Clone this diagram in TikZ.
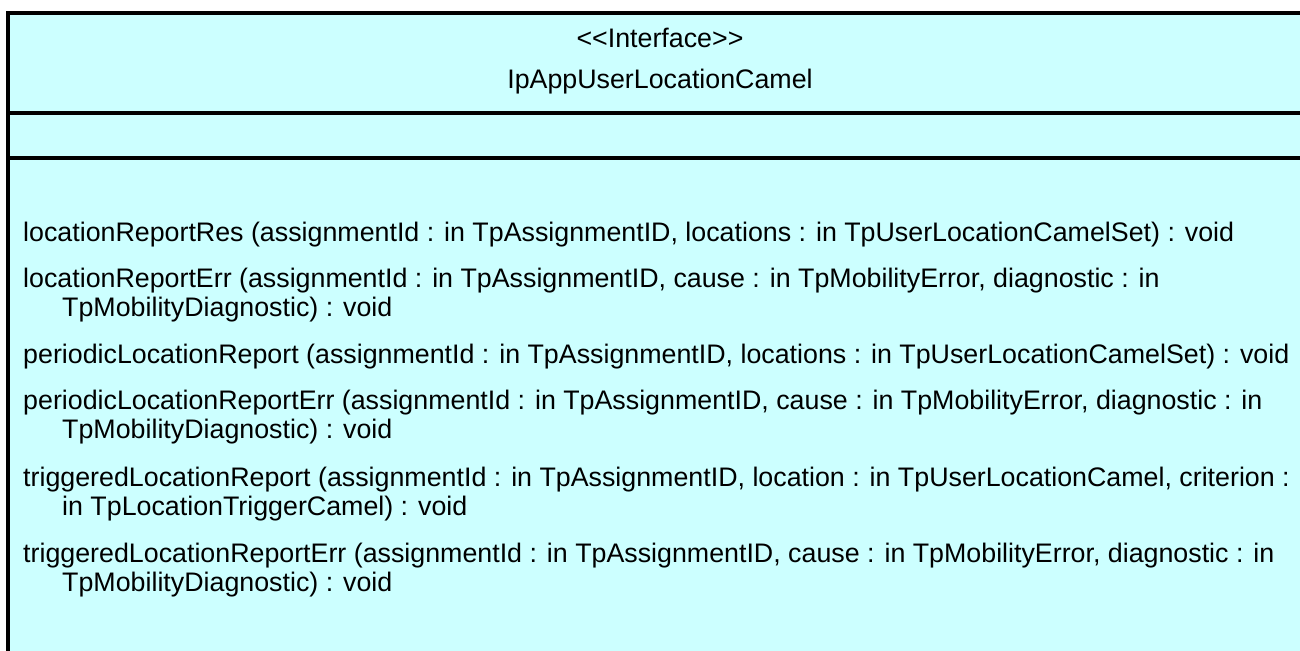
\documentclass[tikz,border=0pt]{standalone}
\usepackage{fontspec}
\usepackage{xcolor}
\newfontfamily\umlfont{Liberation Sans}
\definecolor{ifacefill}{RGB}{204,255,255}

\begin{document}
\begin{tikzpicture}[x=1pt, y=-1pt]
\tikzset{umltext/.style = {font=\umlfont\fontsize{26.8}{29}\selectfont, inner sep=0pt}}
\tikzset{optext/.style = {umltext, anchor=base west, align=left}}
\tikzset{frame/.style = {line width=4pt}}

\useasboundingbox (0,0) rectangle (1300,650);
\clip (0,0) rectangle (1300,650);

%class box
\draw[frame, fill=ifacefill] (8,13) rectangle (1312,700);
\draw[frame] (8,113) -- (1312,113);
\draw[frame] (8,158) -- (1312,158);

%name compartment
\node[umltext, anchor=base] (stereo) at (660,48) {<<Interface>>};
\node[umltext, anchor=base] (cname) at (660,89) {IpAppUserLocationCamel};

%operations (base = last line)
\node[optext] (op1) at (23,241) {locationReportRes (assignmentId : in TpAssignmentID, locations : in TpUserLocationCamelSet) : void};
\node[optext] (op2) at (23,316) {locationReportErr (assignmentId : in TpAssignmentID, cause : in TpMobilityError, diagnostic : in\\\hspace*{39pt}TpMobilityDiagnostic) : void};
\node[optext] (op3) at (23,363) {periodicLocationReport (assignmentId : in TpAssignmentID, locations : in TpUserLocationCamelSet) : void};
\node[optext] (op4) at (23,438) {periodicLocationReportErr (assignmentId : in TpAssignmentID, cause : in TpMobilityError, diagnostic : in\\\hspace*{39pt}TpMobilityDiagnostic) : void};
\node[optext] (op5) at (23,515) {triggeredLocationReport (assignmentId : in TpAssignmentID, location : in TpUserLocationCamel, criterion :\\\hspace*{39pt}in TpLocationTriggerCamel) : void};
\node[optext] (op6) at (23,591) {triggeredLocationReportErr (assignmentId : in TpAssignmentID, cause : in TpMobilityError, diagnostic : in\\\hspace*{39pt}TpMobilityDiagnostic) : void};

\end{tikzpicture}
\end{document}
